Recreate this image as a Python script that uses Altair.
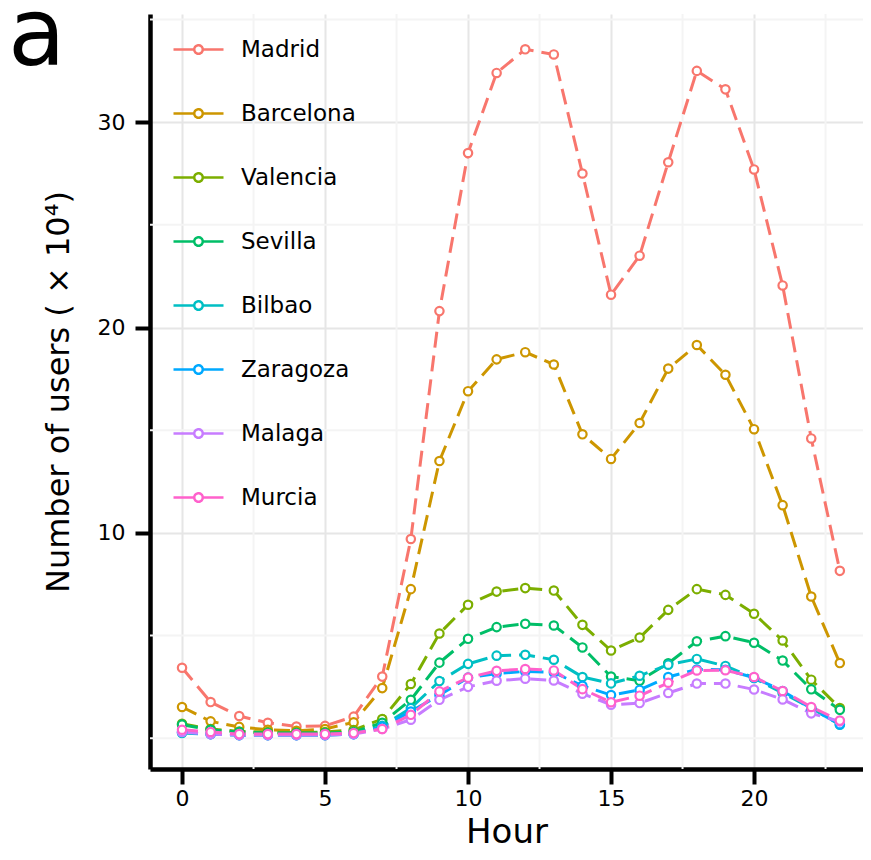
import altair as alt
import pandas as pd

hours = list(range(24))
cities = ["Madrid", "Barcelona", "Valencia", "Sevilla", "Bilbao", "Zaragoza", "Malaga", "Murcia"]
colors = ["#F8766D", "#CD9600", "#7CAE00", "#00BE67", "#00BFC4", "#00A9FF", "#C77CFF", "#FF61CC"]

madrid = [3.43, 1.76, 1.08, 0.75, 0.57, 0.6, 1.05, 3.0, 9.7, 20.8, 28.5, 32.4, 33.55, 33.3, 27.5, 21.6, 23.5, 28.05, 32.5, 31.6, 27.7, 22.05, 14.6, 8.15]
barcelona = [1.52, 0.82, 0.55, 0.41, 0.36, 0.45, 0.77, 2.44, 7.26, 13.5, 16.9, 18.45, 18.8, 18.2, 14.8, 13.6, 15.35, 18.0, 19.15, 17.7, 15.05, 11.35, 6.9, 3.66]
valencia = [0.7, 0.45, 0.33, 0.3, 0.28, 0.3, 0.4, 0.93, 2.64, 5.1, 6.5, 7.14, 7.31, 7.19, 5.52, 4.27, 4.9, 6.25, 7.26, 6.98, 6.06, 4.76, 2.85, 1.47]
sevilla = [0.66, 0.41, 0.3, 0.25, 0.25, 0.25, 0.3, 0.75, 1.87, 3.68, 4.84, 5.41, 5.57, 5.49, 4.42, 3.0, 2.8, 3.65, 4.72, 4.97, 4.65, 3.78, 2.38, 1.38]
bilbao = [0.25, 0.2, 0.15, 0.15, 0.15, 0.15, 0.2, 0.6, 1.47, 2.78, 3.62, 4.02, 4.06, 3.82, 2.98, 2.67, 3.04, 3.58, 3.86, 3.52, 2.93, 2.2, 1.47, 0.66]
zaragoza = [0.3, 0.2, 0.15, 0.15, 0.15, 0.15, 0.2, 0.55, 1.3, 2.1, 2.95, 3.15, 3.25, 3.2, 2.55, 2.1, 2.35, 2.98, 3.35, 3.33, 2.95, 2.3, 1.45, 0.68]
malaga = [0.3, 0.2, 0.15, 0.15, 0.15, 0.15, 0.2, 0.45, 0.9, 1.87, 2.5, 2.8, 2.9, 2.81, 2.17, 1.63, 1.71, 2.2, 2.66, 2.66, 2.37, 1.89, 1.21, 0.82]
murcia = [0.41, 0.3, 0.2, 0.2, 0.2, 0.2, 0.25, 0.45, 1.14, 2.28, 2.95, 3.28, 3.37, 3.3, 2.39, 1.75, 2.07, 2.7, 3.3, 3.31, 2.98, 2.3, 1.52, 0.86]

x_major = [0, 5, 10, 15, 20]
x_minor = [2.5, 7.5, 12.5, 17.5, 22.5]
y_major = [10, 20, 30]
y_minor = [0, 5, 15, 25, 35]

series = [madrid, barcelona, valencia, sevilla, bilbao, zaragoza, malaga, murcia]
rows = []
for ci, (c, vals) in enumerate(zip(cities, series)):
    for h, v in zip(hours, vals):
        rows.append({"Hour": h, "Users": v, "City": c, "order": ci})
df = pd.DataFrame(rows)

FONT = "DejaVu Sans"

xscale = alt.Scale(domain=[-1.12, 23.81], nice=False, zero=False)
yscale = alt.Scale(domain=[-1.5, 35.27], nice=False, zero=False)
cscale = alt.Scale(domain=cities, range=colors)

sym_path = ("M-1,0L-0.17,0M0.17,0L1,0"
            "M0.17,0A0.17,0.17,0,1,1,-0.17,0A0.17,0.17,0,1,1,0.17,0Z")

legend = alt.Legend(
    title=None, orient="none", legendX=22, legendY=9,
    symbolType=sym_path, symbolSize=2500, symbolStrokeWidth=2.5,
    symbolFillColor="white", symbolDash=[1, 0],
    labelFont=FONT, labelFontSize=23, labelColor="black",
    labelOffset=16, rowPadding=25, padding=0,
)

minor_v = alt.Chart(pd.DataFrame({"v": x_minor})).mark_rule(
    color="#f4f4f4", strokeWidth=2
).encode(x=alt.X("v:Q", scale=xscale))
minor_h = alt.Chart(pd.DataFrame({"v": y_minor})).mark_rule(
    color="#f4f4f4", strokeWidth=2
).encode(y=alt.Y("v:Q", scale=yscale))

base = alt.Chart(df)
xenc = alt.X(
    "Hour:Q", scale=xscale, title="Hour",
    axis=alt.Axis(values=x_major, grid=True, gridColor="#e6e6e6", gridWidth=2,
                  domainColor="black", domainWidth=4.5, tickColor="black",
                  tickWidth=4, tickSize=15, labelFont=FONT, labelFontSize=22,
                  labelColor="black", labelPadding=4, titleFont=FONT,
                  titleFontSize=34, titleFontWeight="normal", titleColor="black",
                  titlePadding=6, labelFlush=False),
)
yenc = alt.Y(
    "Users:Q", scale=yscale, title="Number of users ( × 10⁴)",
    axis=alt.Axis(values=y_major, grid=True, gridColor="#e6e6e6", gridWidth=2,
                  domainColor="black", domainWidth=4.5, tickColor="black",
                  tickWidth=4, tickSize=15, labelFont=FONT, labelFontSize=22,
                  labelColor="black", labelPadding=10, titleFont=FONT,
                  titleFontSize=32, titleFontWeight="normal", titleColor="black",
                  titlePadding=22, labelFlush=False),
)

lines = base.mark_line(strokeWidth=3, strokeDash=[16, 8]).encode(
    x=xenc, y=yenc,
    color=alt.Color("City:N", scale=cscale, sort=cities, legend=legend),
    order="Hour:Q",
)
points = base.mark_point(shape="circle", filled=True, fill="white",
                         size=70, strokeWidth=2.2, opacity=1).encode(
    x=alt.X("Hour:Q", scale=xscale),
    y=alt.Y("Users:Q", scale=yscale),
    stroke=alt.Stroke("City:N", scale=cscale, sort=cities, legend=None),
    order="order:Q",
)

label = alt.Chart(pd.DataFrame({"t": ["a"]})).mark_text(
    font=FONT, fontSize=94, align="left", baseline="alphabetic", color="black"
).encode(text="t:N", x=alt.value(-142), y=alt.value(51))

chart = alt.layer(minor_v, minor_h, lines, points, label).properties(
    width=713, height=755,
    autosize=alt.AutoSizeParams(type="none"),
    padding={"left": 142, "top": 6, "right": 0, "bottom": 83},
).configure_view(stroke=None).configure_axis(grid=False)

chart.save("out.html", embed_options={"renderer": "svg", "actions": False})
